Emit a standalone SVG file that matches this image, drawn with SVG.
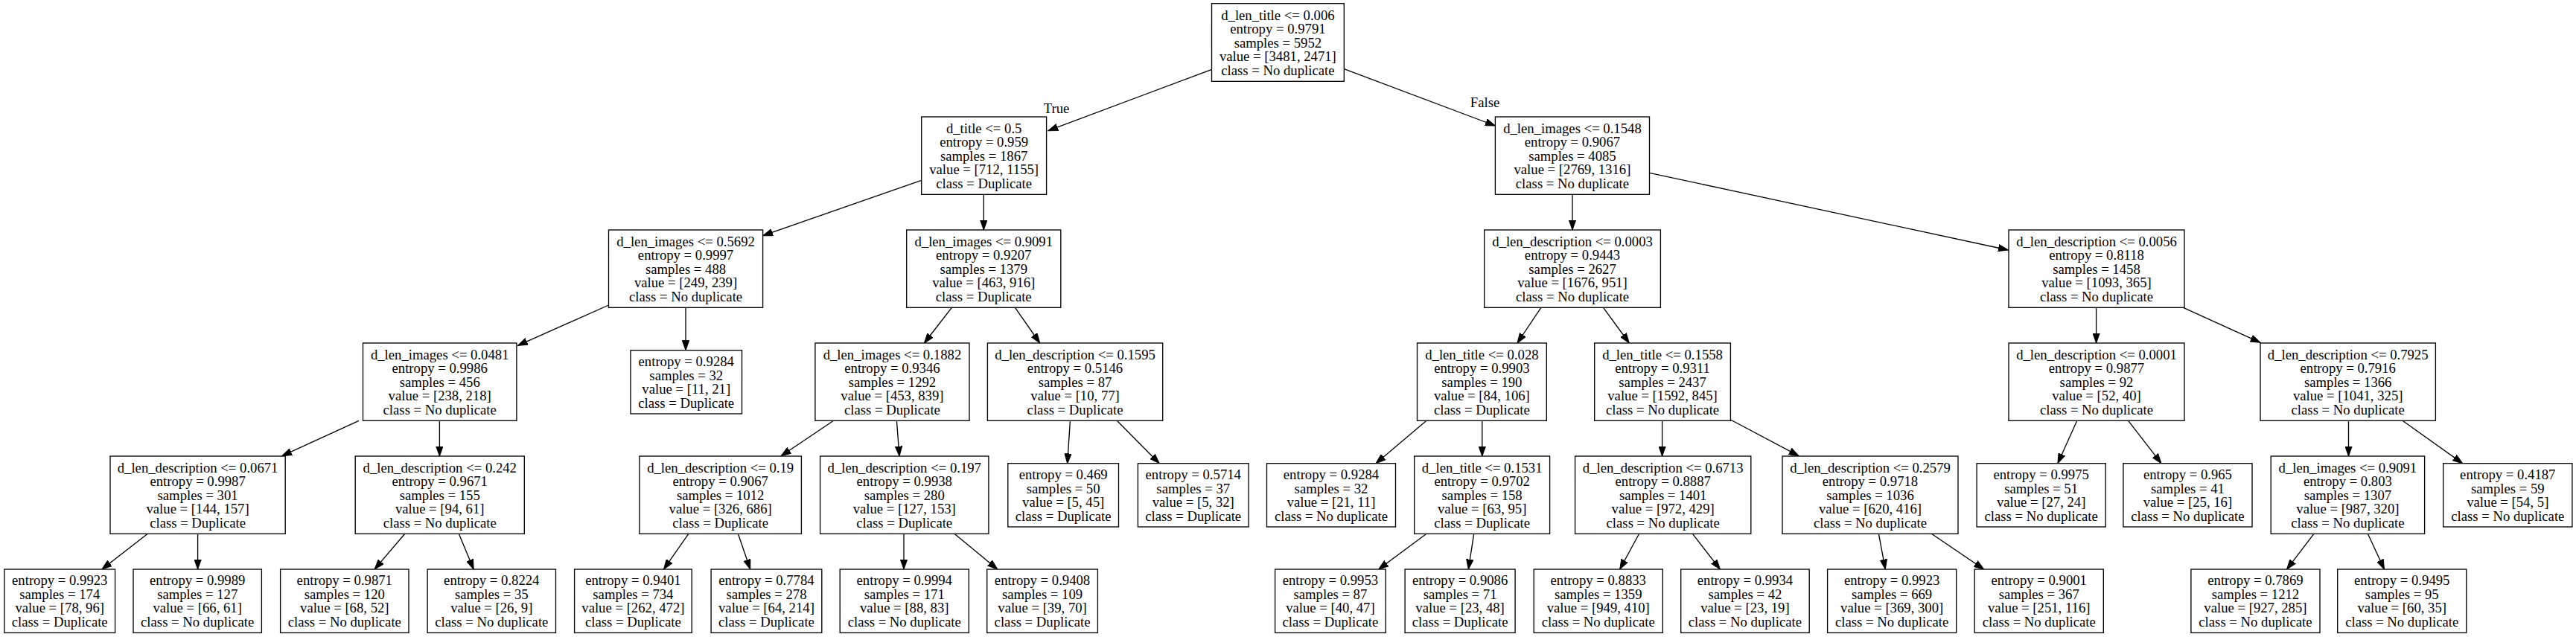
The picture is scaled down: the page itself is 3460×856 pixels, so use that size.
<svg xmlns="http://www.w3.org/2000/svg" width="3460" height="856" viewBox="0 0 3460 856">
<style>
.box{fill:#fff;stroke:#000;stroke-width:1.33}
text{font-family:"Liberation Serif","Times New Roman",serif;font-size:18.7px;text-anchor:middle;fill:#000}
.edge{stroke:#000;stroke-width:1.33;fill:none;marker-end:url(#arr)}
</style>
<defs>
<marker id="arr" markerUnits="userSpaceOnUse" markerWidth="14" markerHeight="10" viewBox="0 -5 14 10" refX="13.3" refY="0" orient="auto">
<path d="M0,-4.7 L13.3,0 L0,4.7 Z" fill="#000" stroke="#000" stroke-width="1"/>
</marker>
</defs>
<rect width="3460" height="856" fill="#fff"/>
<g id="connectors">
<line class="edge" x1="1627.6" y1="93.3" x2="1407.8" y2="175.7"/>
<line class="edge" x1="1805.3" y1="92.7" x2="2008.4" y2="169"/>
<line class="edge" x1="1237.7" y1="242.3" x2="1024.6" y2="316.7"/>
<line class="edge" x1="1321.3" y1="261.3" x2="1321.3" y2="309"/>
<line class="edge" x1="2112" y1="261.3" x2="2112" y2="309"/>
<line class="edge" x1="2215.5" y1="232.3" x2="2697.3" y2="336"/>
<line class="edge" x1="817.5" y1="410" x2="695.4" y2="464.3"/>
<line class="edge" x1="921" y1="413.3" x2="921" y2="470.7"/>
<line class="edge" x1="1278.4" y1="413.3" x2="1241.4" y2="461"/>
<line class="edge" x1="1363.4" y1="413.3" x2="1396.7" y2="461"/>
<line class="edge" x1="2069.9" y1="413.3" x2="2038" y2="461"/>
<line class="edge" x1="2153.5" y1="413.3" x2="2188.3" y2="461"/>
<line class="edge" x1="2815.6" y1="413.3" x2="2815.6" y2="461"/>
<line class="edge" x1="2932.5" y1="413.3" x2="3036" y2="460.3"/>
<line class="edge" x1="482" y1="565.3" x2="378.8" y2="612.7"/>
<line class="edge" x1="590.4" y1="565.3" x2="590.4" y2="613"/>
<line class="edge" x1="1119.6" y1="565.3" x2="1049.1" y2="612.7"/>
<line class="edge" x1="1204.4" y1="565.3" x2="1208" y2="613"/>
<line class="edge" x1="1437.4" y1="565.3" x2="1433.7" y2="622.7"/>
<line class="edge" x1="1500.3" y1="565.3" x2="1557.2" y2="622.7"/>
<line class="edge" x1="1916" y1="565.3" x2="1848" y2="622.7"/>
<line class="edge" x1="1990.8" y1="565.3" x2="1990.8" y2="613"/>
<line class="edge" x1="2232.6" y1="565.3" x2="2232.6" y2="613"/>
<line class="edge" x1="2324.4" y1="564" x2="2416.1" y2="612.7"/>
<line class="edge" x1="2789.8" y1="565.3" x2="2763.9" y2="622.7"/>
<line class="edge" x1="2858.6" y1="565.3" x2="2903" y2="622.7"/>
<line class="edge" x1="3154.5" y1="565.3" x2="3154.5" y2="613"/>
<line class="edge" x1="3227" y1="565.3" x2="3307.6" y2="622.7"/>
<line class="edge" x1="198.3" y1="717.3" x2="136.9" y2="765"/>
<line class="edge" x1="265.6" y1="717.3" x2="265.6" y2="765"/>
<line class="edge" x1="543.8" y1="717.3" x2="503.1" y2="765"/>
<line class="edge" x1="616.3" y1="717.3" x2="636.2" y2="765"/>
<line class="edge" x1="924.8" y1="717.3" x2="891.5" y2="765"/>
<line class="edge" x1="991.4" y1="717.3" x2="1007.7" y2="765"/>
<line class="edge" x1="1214" y1="717.3" x2="1214" y2="765"/>
<line class="edge" x1="1282" y1="717.3" x2="1339.8" y2="765"/>
<line class="edge" x1="1916" y1="717.3" x2="1851.7" y2="765"/>
<line class="edge" x1="1979.7" y1="717.3" x2="1972.3" y2="765"/>
<line class="edge" x1="2201.6" y1="717.3" x2="2175.7" y2="765"/>
<line class="edge" x1="2273.4" y1="717.3" x2="2310.4" y2="765"/>
<line class="edge" x1="2523.4" y1="717.3" x2="2532.3" y2="765"/>
<line class="edge" x1="2594.4" y1="717.3" x2="2664.7" y2="765"/>
<line class="edge" x1="3107.9" y1="717.3" x2="3071.6" y2="765"/>
<line class="edge" x1="3180.4" y1="717.3" x2="3202.5" y2="765"/>
<text x="1419" y="151.7">True</text>
<text x="1994.5" y="144">False</text>
</g>
<g id="n0"><rect class="box" x="1627.5" y="4.7" width="177.8" height="104.6"/><text y="26.5"><tspan x="1716.4">d_len_title &lt;= 0.006</tspan><tspan x="1716.4" dy="18.5">entropy = 0.9791</tspan><tspan x="1716.4" dy="18.5">samples = 5952</tspan><tspan x="1716.4" dy="18.5">value = [3481, 2471]</tspan><tspan x="1716.4" dy="18.5">class = No duplicate</tspan></text></g>
<g id="n1"><rect class="box" x="1237.7" y="157" width="167.9" height="104.3"/><text y="178.65"><tspan x="1321.65">d_title &lt;= 0.5</tspan><tspan x="1321.65" dy="18.5">entropy = 0.959</tspan><tspan x="1321.65" dy="18.5">samples = 1867</tspan><tspan x="1321.65" dy="18.5">value = [712, 1155]</tspan><tspan x="1321.65" dy="18.5">class = Duplicate</tspan></text></g>
<g id="n2"><rect class="box" x="2008.4" y="157" width="207.1" height="104.3"/><text y="178.65"><tspan x="2111.95">d_len_images &lt;= 0.1548</tspan><tspan x="2111.95" dy="18.5">entropy = 0.9067</tspan><tspan x="2111.95" dy="18.5">samples = 4085</tspan><tspan x="2111.95" dy="18.5">value = [2769, 1316]</tspan><tspan x="2111.95" dy="18.5">class = No duplicate</tspan></text></g>
<g id="n3"><rect class="box" x="817.5" y="309" width="207.1" height="104.3"/><text y="330.65"><tspan x="921.05">d_len_images &lt;= 0.5692</tspan><tspan x="921.05" dy="18.5">entropy = 0.9997</tspan><tspan x="921.05" dy="18.5">samples = 488</tspan><tspan x="921.05" dy="18.5">value = [249, 239]</tspan><tspan x="921.05" dy="18.5">class = No duplicate</tspan></text></g>
<g id="n4"><rect class="box" x="1217.7" y="309" width="207.1" height="104.3"/><text y="330.65"><tspan x="1321.25">d_len_images &lt;= 0.9091</tspan><tspan x="1321.25" dy="18.5">entropy = 0.9207</tspan><tspan x="1321.25" dy="18.5">samples = 1379</tspan><tspan x="1321.25" dy="18.5">value = [463, 916]</tspan><tspan x="1321.25" dy="18.5">class = Duplicate</tspan></text></g>
<g id="n5"><rect class="box" x="1993.7" y="309" width="236.7" height="104.3"/><text y="330.65"><tspan x="2112.05">d_len_description &lt;= 0.0003</tspan><tspan x="2112.05" dy="18.5">entropy = 0.9443</tspan><tspan x="2112.05" dy="18.5">samples = 2627</tspan><tspan x="2112.05" dy="18.5">value = [1676, 951]</tspan><tspan x="2112.05" dy="18.5">class = No duplicate</tspan></text></g>
<g id="n6"><rect class="box" x="2698" y="309" width="236" height="104.3"/><text y="330.65"><tspan x="2816">d_len_description &lt;= 0.0056</tspan><tspan x="2816" dy="18.5">entropy = 0.8118</tspan><tspan x="2816" dy="18.5">samples = 1458</tspan><tspan x="2816" dy="18.5">value = [1093, 365]</tspan><tspan x="2816" dy="18.5">class = No duplicate</tspan></text></g>
<g id="n7"><rect class="box" x="487.5" y="461" width="206.4" height="104.3"/><text y="482.65"><tspan x="590.7">d_len_images &lt;= 0.0481</tspan><tspan x="590.7" dy="18.5">entropy = 0.9986</tspan><tspan x="590.7" dy="18.5">samples = 456</tspan><tspan x="590.7" dy="18.5">value = [238, 218]</tspan><tspan x="590.7" dy="18.5">class = No duplicate</tspan></text></g>
<g id="n8"><rect class="box" x="847" y="470.7" width="149.5" height="85.3"/><text y="492.1"><tspan x="921.75">entropy = 0.9284</tspan><tspan x="921.75" dy="18.5">samples = 32</tspan><tspan x="921.75" dy="18.5">value = [11, 21]</tspan><tspan x="921.75" dy="18.5">class = Duplicate</tspan></text></g>
<g id="n9"><rect class="box" x="1094.9" y="461" width="207.1" height="104.3"/><text y="482.65"><tspan x="1198.45">d_len_images &lt;= 0.1882</tspan><tspan x="1198.45" dy="18.5">entropy = 0.9346</tspan><tspan x="1198.45" dy="18.5">samples = 1292</tspan><tspan x="1198.45" dy="18.5">value = [453, 839]</tspan><tspan x="1198.45" dy="18.5">class = Duplicate</tspan></text></g>
<g id="n10"><rect class="box" x="1326.4" y="461" width="235.3" height="104.3"/><text y="482.65"><tspan x="1444.05">d_len_description &lt;= 0.1595</tspan><tspan x="1444.05" dy="18.5">entropy = 0.5146</tspan><tspan x="1444.05" dy="18.5">samples = 87</tspan><tspan x="1444.05" dy="18.5">value = [10, 77]</tspan><tspan x="1444.05" dy="18.5">class = Duplicate</tspan></text></g>
<g id="n11"><rect class="box" x="1903.5" y="461" width="173.8" height="104.3"/><text y="482.65"><tspan x="1990.4">d_len_title &lt;= 0.028</tspan><tspan x="1990.4" dy="18.5">entropy = 0.9903</tspan><tspan x="1990.4" dy="18.5">samples = 190</tspan><tspan x="1990.4" dy="18.5">value = [84, 106]</tspan><tspan x="1990.4" dy="18.5">class = Duplicate</tspan></text></g>
<g id="n12"><rect class="box" x="2141.7" y="461" width="182.7" height="104.3"/><text y="482.65"><tspan x="2233.05">d_len_title &lt;= 0.1558</tspan><tspan x="2233.05" dy="18.5">entropy = 0.9311</tspan><tspan x="2233.05" dy="18.5">samples = 2437</tspan><tspan x="2233.05" dy="18.5">value = [1592, 845]</tspan><tspan x="2233.05" dy="18.5">class = No duplicate</tspan></text></g>
<g id="n13"><rect class="box" x="2698" y="461" width="236" height="104.3"/><text y="482.65"><tspan x="2816">d_len_description &lt;= 0.0001</tspan><tspan x="2816" dy="18.5">entropy = 0.9877</tspan><tspan x="2816" dy="18.5">samples = 92</tspan><tspan x="2816" dy="18.5">value = [52, 40]</tspan><tspan x="2816" dy="18.5">class = No duplicate</tspan></text></g>
<g id="n14"><rect class="box" x="3036" y="461" width="235.4" height="104.3"/><text y="482.65"><tspan x="3153.7">d_len_description &lt;= 0.7925</tspan><tspan x="3153.7" dy="18.5">entropy = 0.7916</tspan><tspan x="3153.7" dy="18.5">samples = 1366</tspan><tspan x="3153.7" dy="18.5">value = [1041, 325]</tspan><tspan x="3153.7" dy="18.5">class = No duplicate</tspan></text></g>
<g id="n15"><rect class="box" x="148" y="613" width="235.2" height="104.3"/><text y="634.65"><tspan x="265.6">d_len_description &lt;= 0.0671</tspan><tspan x="265.6" dy="18.5">entropy = 0.9987</tspan><tspan x="265.6" dy="18.5">samples = 301</tspan><tspan x="265.6" dy="18.5">value = [144, 157]</tspan><tspan x="265.6" dy="18.5">class = Duplicate</tspan></text></g>
<g id="n16"><rect class="box" x="477.2" y="613" width="227.1" height="104.3"/><text y="634.65"><tspan x="590.75">d_len_description &lt;= 0.242</tspan><tspan x="590.75" dy="18.5">entropy = 0.9671</tspan><tspan x="590.75" dy="18.5">samples = 155</tspan><tspan x="590.75" dy="18.5">value = [94, 61]</tspan><tspan x="590.75" dy="18.5">class = No duplicate</tspan></text></g>
<g id="n17"><rect class="box" x="858.9" y="613" width="217.5" height="104.3"/><text y="634.65"><tspan x="967.65">d_len_description &lt;= 0.19</tspan><tspan x="967.65" dy="18.5">entropy = 0.9067</tspan><tspan x="967.65" dy="18.5">samples = 1012</tspan><tspan x="967.65" dy="18.5">value = [326, 686]</tspan><tspan x="967.65" dy="18.5">class = Duplicate</tspan></text></g>
<g id="n18"><rect class="box" x="1101.6" y="613" width="226.3" height="104.3"/><text y="634.65"><tspan x="1214.75">d_len_description &lt;= 0.197</tspan><tspan x="1214.75" dy="18.5">entropy = 0.9938</tspan><tspan x="1214.75" dy="18.5">samples = 280</tspan><tspan x="1214.75" dy="18.5">value = [127, 153]</tspan><tspan x="1214.75" dy="18.5">class = Duplicate</tspan></text></g>
<g id="n19"><rect class="box" x="1353.8" y="622.7" width="148.7" height="85.3"/><text y="644.1"><tspan x="1428.15">entropy = 0.469</tspan><tspan x="1428.15" dy="18.5">samples = 50</tspan><tspan x="1428.15" dy="18.5">value = [5, 45]</tspan><tspan x="1428.15" dy="18.5">class = Duplicate</tspan></text></g>
<g id="n20"><rect class="box" x="1528.4" y="622.7" width="148.7" height="85.3"/><text y="644.1"><tspan x="1602.75">entropy = 0.5714</tspan><tspan x="1602.75" dy="18.5">samples = 37</tspan><tspan x="1602.75" dy="18.5">value = [5, 32]</tspan><tspan x="1602.75" dy="18.5">class = Duplicate</tspan></text></g>
<g id="n21"><rect class="box" x="1701.5" y="622.7" width="173" height="85.3"/><text y="644.1"><tspan x="1788">entropy = 0.9284</tspan><tspan x="1788" dy="18.5">samples = 32</tspan><tspan x="1788" dy="18.5">value = [21, 11]</tspan><tspan x="1788" dy="18.5">class = No duplicate</tspan></text></g>
<g id="n22"><rect class="box" x="1899.7" y="613" width="181.9" height="104.3"/><text y="634.65"><tspan x="1990.65">d_len_title &lt;= 0.1531</tspan><tspan x="1990.65" dy="18.5">entropy = 0.9702</tspan><tspan x="1990.65" dy="18.5">samples = 158</tspan><tspan x="1990.65" dy="18.5">value = [63, 95]</tspan><tspan x="1990.65" dy="18.5">class = Duplicate</tspan></text></g>
<g id="n23"><rect class="box" x="2115.6" y="613" width="236.2" height="104.3"/><text y="634.65"><tspan x="2233.7">d_len_description &lt;= 0.6713</tspan><tspan x="2233.7" dy="18.5">entropy = 0.8887</tspan><tspan x="2233.7" dy="18.5">samples = 1401</tspan><tspan x="2233.7" dy="18.5">value = [972, 429]</tspan><tspan x="2233.7" dy="18.5">class = No duplicate</tspan></text></g>
<g id="n24"><rect class="box" x="2394" y="613" width="236" height="104.3"/><text y="634.65"><tspan x="2512">d_len_description &lt;= 0.2579</tspan><tspan x="2512" dy="18.5">entropy = 0.9718</tspan><tspan x="2512" dy="18.5">samples = 1036</tspan><tspan x="2512" dy="18.5">value = [620, 416]</tspan><tspan x="2512" dy="18.5">class = No duplicate</tspan></text></g>
<g id="n25"><rect class="box" x="2655.1" y="622.7" width="173.1" height="85.3"/><text y="644.1"><tspan x="2741.65">entropy = 0.9975</tspan><tspan x="2741.65" dy="18.5">samples = 51</tspan><tspan x="2741.65" dy="18.5">value = [27, 24]</tspan><tspan x="2741.65" dy="18.5">class = No duplicate</tspan></text></g>
<g id="n26"><rect class="box" x="2851.9" y="622.7" width="173.1" height="85.3"/><text y="644.1"><tspan x="2938.45">entropy = 0.965</tspan><tspan x="2938.45" dy="18.5">samples = 41</tspan><tspan x="2938.45" dy="18.5">value = [25, 16]</tspan><tspan x="2938.45" dy="18.5">class = No duplicate</tspan></text></g>
<g id="n27"><rect class="box" x="3050.2" y="613" width="206.4" height="104.3"/><text y="634.65"><tspan x="3153.4">d_len_images &lt;= 0.9091</tspan><tspan x="3153.4" dy="18.5">entropy = 0.803</tspan><tspan x="3153.4" dy="18.5">samples = 1307</tspan><tspan x="3153.4" dy="18.5">value = [987, 320]</tspan><tspan x="3153.4" dy="18.5">class = No duplicate</tspan></text></g>
<g id="n28"><rect class="box" x="3281.7" y="622.7" width="173.2" height="85.3"/><text y="644.1"><tspan x="3368.3">entropy = 0.4187</tspan><tspan x="3368.3" dy="18.5">samples = 59</tspan><tspan x="3368.3" dy="18.5">value = [54, 5]</tspan><tspan x="3368.3" dy="18.5">class = No duplicate</tspan></text></g>
<g id="n29"><rect class="box" x="5.9" y="765" width="148.7" height="85.3"/><text y="786.4"><tspan x="80.25">entropy = 0.9923</tspan><tspan x="80.25" dy="18.5">samples = 174</tspan><tspan x="80.25" dy="18.5">value = [78, 96]</tspan><tspan x="80.25" dy="18.5">class = Duplicate</tspan></text></g>
<g id="n30"><rect class="box" x="179" y="765" width="172.4" height="85.3"/><text y="786.4"><tspan x="265.2">entropy = 0.9989</tspan><tspan x="265.2" dy="18.5">samples = 127</tspan><tspan x="265.2" dy="18.5">value = [66, 61]</tspan><tspan x="265.2" dy="18.5">class = No duplicate</tspan></text></g>
<g id="n31"><rect class="box" x="376.6" y="765" width="172.4" height="85.3"/><text y="786.4"><tspan x="462.8">entropy = 0.9871</tspan><tspan x="462.8" dy="18.5">samples = 120</tspan><tspan x="462.8" dy="18.5">value = [68, 52]</tspan><tspan x="462.8" dy="18.5">class = No duplicate</tspan></text></g>
<g id="n32"><rect class="box" x="574.1" y="765" width="172.4" height="85.3"/><text y="786.4"><tspan x="660.3">entropy = 0.8224</tspan><tspan x="660.3" dy="18.5">samples = 35</tspan><tspan x="660.3" dy="18.5">value = [26, 9]</tspan><tspan x="660.3" dy="18.5">class = No duplicate</tspan></text></g>
<g id="n33"><rect class="box" x="771.6" y="765" width="157.6" height="85.3"/><text y="786.4"><tspan x="850.4">entropy = 0.9401</tspan><tspan x="850.4" dy="18.5">samples = 734</tspan><tspan x="850.4" dy="18.5">value = [262, 472]</tspan><tspan x="850.4" dy="18.5">class = Duplicate</tspan></text></g>
<g id="n34"><rect class="box" x="955.1" y="765" width="148.7" height="85.3"/><text y="786.4"><tspan x="1029.45">entropy = 0.7784</tspan><tspan x="1029.45" dy="18.5">samples = 278</tspan><tspan x="1029.45" dy="18.5">value = [64, 214]</tspan><tspan x="1029.45" dy="18.5">class = Duplicate</tspan></text></g>
<g id="n35"><rect class="box" x="1128.2" y="765" width="173.1" height="85.3"/><text y="786.4"><tspan x="1214.75">entropy = 0.9994</tspan><tspan x="1214.75" dy="18.5">samples = 171</tspan><tspan x="1214.75" dy="18.5">value = [88, 83]</tspan><tspan x="1214.75" dy="18.5">class = No duplicate</tspan></text></g>
<g id="n36"><rect class="box" x="1325.7" y="765" width="148.7" height="85.3"/><text y="786.4"><tspan x="1400.05">entropy = 0.9408</tspan><tspan x="1400.05" dy="18.5">samples = 109</tspan><tspan x="1400.05" dy="18.5">value = [39, 70]</tspan><tspan x="1400.05" dy="18.5">class = Duplicate</tspan></text></g>
<g id="n37"><rect class="box" x="1712.6" y="765" width="148.6" height="85.3"/><text y="786.4"><tspan x="1786.9">entropy = 0.9953</tspan><tspan x="1786.9" dy="18.5">samples = 87</tspan><tspan x="1786.9" dy="18.5">value = [40, 47]</tspan><tspan x="1786.9" dy="18.5">class = Duplicate</tspan></text></g>
<g id="n38"><rect class="box" x="1887.1" y="765" width="148" height="85.3"/><text y="786.4"><tspan x="1961.1">entropy = 0.9086</tspan><tspan x="1961.1" dy="18.5">samples = 71</tspan><tspan x="1961.1" dy="18.5">value = [23, 48]</tspan><tspan x="1961.1" dy="18.5">class = Duplicate</tspan></text></g>
<g id="n39"><rect class="box" x="2060.2" y="765" width="173.1" height="85.3"/><text y="786.4"><tspan x="2146.75">entropy = 0.8833</tspan><tspan x="2146.75" dy="18.5">samples = 1359</tspan><tspan x="2146.75" dy="18.5">value = [949, 410]</tspan><tspan x="2146.75" dy="18.5">class = No duplicate</tspan></text></g>
<g id="n40"><rect class="box" x="2257.7" y="765" width="172.5" height="85.3"/><text y="786.4"><tspan x="2343.95">entropy = 0.9934</tspan><tspan x="2343.95" dy="18.5">samples = 42</tspan><tspan x="2343.95" dy="18.5">value = [23, 19]</tspan><tspan x="2343.95" dy="18.5">class = No duplicate</tspan></text></g>
<g id="n41"><rect class="box" x="2454.6" y="765" width="173.1" height="85.3"/><text y="786.4"><tspan x="2541.15">entropy = 0.9923</tspan><tspan x="2541.15" dy="18.5">samples = 669</tspan><tspan x="2541.15" dy="18.5">value = [369, 300]</tspan><tspan x="2541.15" dy="18.5">class = No duplicate</tspan></text></g>
<g id="n42"><rect class="box" x="2652.2" y="765" width="173.1" height="85.3"/><text y="786.4"><tspan x="2738.75">entropy = 0.9001</tspan><tspan x="2738.75" dy="18.5">samples = 367</tspan><tspan x="2738.75" dy="18.5">value = [251, 116]</tspan><tspan x="2738.75" dy="18.5">class = No duplicate</tspan></text></g>
<g id="n43"><rect class="box" x="2942.9" y="765" width="173.1" height="85.3"/><text y="786.4"><tspan x="3029.45">entropy = 0.7869</tspan><tspan x="3029.45" dy="18.5">samples = 1212</tspan><tspan x="3029.45" dy="18.5">value = [927, 285]</tspan><tspan x="3029.45" dy="18.5">class = No duplicate</tspan></text></g>
<g id="n44"><rect class="box" x="3139.7" y="765" width="173.1" height="85.3"/><text y="786.4"><tspan x="3226.25">entropy = 0.9495</tspan><tspan x="3226.25" dy="18.5">samples = 95</tspan><tspan x="3226.25" dy="18.5">value = [60, 35]</tspan><tspan x="3226.25" dy="18.5">class = No duplicate</tspan></text></g>
</svg>
